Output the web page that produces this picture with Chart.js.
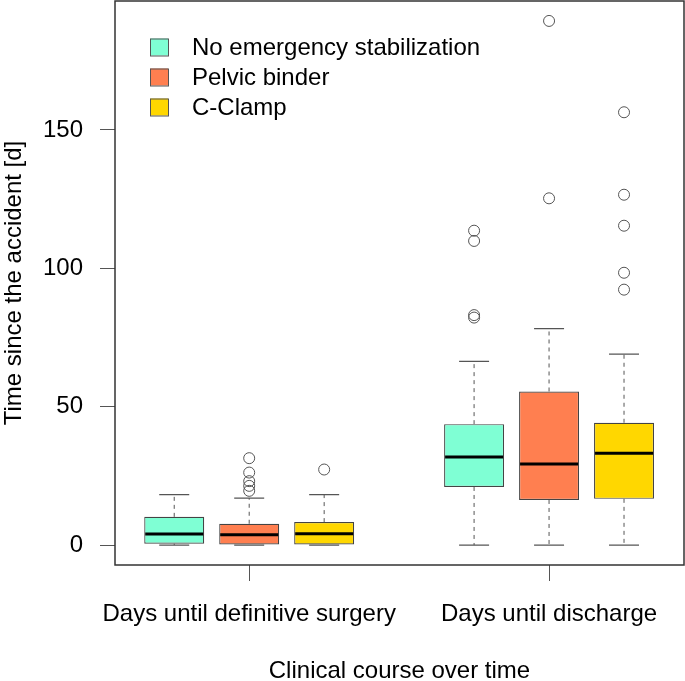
<!DOCTYPE html>
<html>
<head>
<meta charset="utf-8">
<script src="https://cdn.jsdelivr.net/npm/chart.js@4/dist/chart.umd.min.js"></script>
<style>
  body { margin: 0; background: #fff; }
  canvas { display: block; }
</style>
</head>
<body>
<canvas id="boxChart" width="685" height="681"></canvas>
<script>
// data
const groups = ['Days until definitive surgery', 'Days until discharge'];
const groupPos = [2, 6];
const treatments = ['No emergency stabilization', 'Pelvic binder', 'C-Clamp'];
const treatmentColors = ['#7FFFD4', '#FF7F50', '#FFD700'];

const boxPos = [1, 2, 3, 5, 6, 7];
const whiskerLow = [0, 0, 0, 0, 0, 0];
const q1 = [0.5, 0, 0, 21, 16.3, 16.7];
const median = [4, 3.7, 4.1, 31.8, 29.3, 33.2];
const q3 = [10.2, 7.7, 8.3, 43.7, 55.5, 44.2];
const whiskerHigh = [18.2, 17, 18.2, 66.4, 78.2, 69];
const outliers = [
    [],
    [19.6, 21.4, 23.1, 26.2, 31.4],
    [27.3],
    [82.2, 83.1, 109.9, 113.6],
    [125.3, 189.4],
    [92.3, 98.4, 115.4, 126.6, 156.4]
];
const yTicks = [0, 50, 100, 150];

const FONT = "'Liberation Sans', Arial, sans-serif";

// whiskers, medians, frame and legend
const boxplotExtras = {
    id: 'boxplotExtras',
    afterDatasetsDraw(chart) {
        const { ctx, chartArea } = chart;
        const x = chart.scales.x;
        const y = chart.scales.y;
        const half = 0.4;

        ctx.save();
        boxPos.forEach((p, i) => {
            const cx = x.getPixelForValue(p);
            const capL = x.getPixelForValue(p - half / 2);
            const capR = x.getPixelForValue(p + half / 2);

            // dashed whiskers
            ctx.strokeStyle = '#555';
            ctx.lineWidth = 1;
            ctx.setLineDash([4, 4]);
            ctx.beginPath();
            ctx.moveTo(cx, y.getPixelForValue(q3[i]));
            ctx.lineTo(cx, y.getPixelForValue(whiskerHigh[i]));
            ctx.moveTo(cx, y.getPixelForValue(q1[i]));
            ctx.lineTo(cx, y.getPixelForValue(whiskerLow[i]));
            ctx.stroke();

            // caps
            ctx.setLineDash([]);
            ctx.lineWidth = 1.3;
            ctx.beginPath();
            ctx.moveTo(capL, y.getPixelForValue(whiskerHigh[i]));
            ctx.lineTo(capR, y.getPixelForValue(whiskerHigh[i]));
            ctx.moveTo(capL, y.getPixelForValue(whiskerLow[i]));
            ctx.lineTo(capR, y.getPixelForValue(whiskerLow[i]));
            ctx.stroke();

            // median
            ctx.strokeStyle = '#000';
            ctx.lineWidth = 3;
            ctx.beginPath();
            ctx.moveTo(x.getPixelForValue(p - half) + 1, y.getPixelForValue(median[i]));
            ctx.lineTo(x.getPixelForValue(p + half) - 1, y.getPixelForValue(median[i]));
            ctx.stroke();
        });

        // plot frame
        ctx.strokeStyle = '#333';
        ctx.lineWidth = 1.5;
        ctx.strokeRect(chartArea.left, chartArea.top, chartArea.right - chartArea.left, chartArea.bottom - chartArea.top);

        // legend
        ctx.font = '24px ' + FONT;
        ctx.textBaseline = 'middle';
        ctx.textAlign = 'left';
        treatments.forEach((name, i) => {
            const ly = chartArea.top + 46 + i * 30;
            ctx.fillStyle = treatmentColors[i];
            ctx.fillRect(chartArea.left + 35, ly - 8.5, 18, 17);
            ctx.strokeStyle = '#555';
            ctx.lineWidth = 1;
            ctx.strokeRect(chartArea.left + 35.5, ly - 8, 18, 17);
            ctx.fillStyle = '#000';
            ctx.fillText(name, chartArea.left + 77, ly + 1);
        });
        ctx.restore();
    }
};

const boxData = boxPos.map((p, i) => ({ x: p, y: [q1[i], q3[i]] }));
const outlierData = outliers.flatMap((vals, i) => vals.map(v => ({ x: boxPos[i], y: v })));

const ctx = document.getElementById('boxChart').getContext('2d');
new Chart(ctx, {
    type: 'bar',
    data: {
        datasets: [{
            type: 'scatter',
            data: outlierData,
            pointStyle: 'circle',
            pointRadius: 5.5,
            pointHoverRadius: 5.5,
            backgroundColor: 'rgba(0,0,0,0)',
            borderColor: '#555',
            borderWidth: 1
        }, {
            data: boxData,
            backgroundColor: boxPos.map((p, i) => treatmentColors[i % 3]),
            borderColor: '#444',
            borderWidth: 1.2,
            borderSkipped: false,
            categoryPercentage: 1,
            barPercentage: 0.8
        }]
    },
    options: {
        responsive: false,
        animation: false,
        layout: { autoPadding: false, padding: { top: 1, right: 1, left: 0, bottom: 0 } },
        plugins: {
            legend: { display: false },
            tooltip: { enabled: false }
        },
        scales: {
            x: {
                type: 'linear',
                offset: false,
                min: 0.21,
                max: 7.8,
                afterBuildTicks: scale => { scale.ticks = groupPos.map(v => ({ value: v })); },
                afterFit: scale => {
                    scale.height = 116;
                    scale.paddingLeft = 0;
                    scale.paddingRight = 0;
                },
                border: { display: false },
                grid: { offset: false, drawOnChartArea: false, drawTicks: true, tickLength: 16, color: '#555' },
                ticks: {
                    autoSkip: false,
                    maxRotation: 0,
                    padding: 19,
                    color: '#000',
                    font: { size: 24, family: FONT },
                    callback: (v, i) => groups[i]
                },
                title: {
                    display: true,
                    text: 'Clinical course over time',
                    color: '#000',
                    font: { size: 24, family: FONT, lineHeight: 1 },
                    padding: { top: 0, bottom: -2 }
                }
            },
            y: {
                min: -7.2,
                max: 196.6,
                afterBuildTicks: scale => { scale.ticks = yTicks.map(v => ({ value: v })); },
                afterFit: scale => {
                    scale.width = 115;
                    scale.paddingTop = 0;
                    scale.paddingBottom = 0;
                },
                border: { display: false },
                grid: { drawOnChartArea: false, drawTicks: true, tickLength: 15, color: '#555' },
                ticks: {
                    padding: 17,
                    color: '#000',
                    font: { size: 24, family: FONT }
                },
                title: {
                    display: true,
                    text: 'Time since the accident [d]',
                    color: '#000',
                    font: { size: 24, family: FONT },
                    padding: { top: 0, bottom: 0 }
                }
            }
        }
    },
    plugins: [boxplotExtras]
});
</script>
</body>
</html>
